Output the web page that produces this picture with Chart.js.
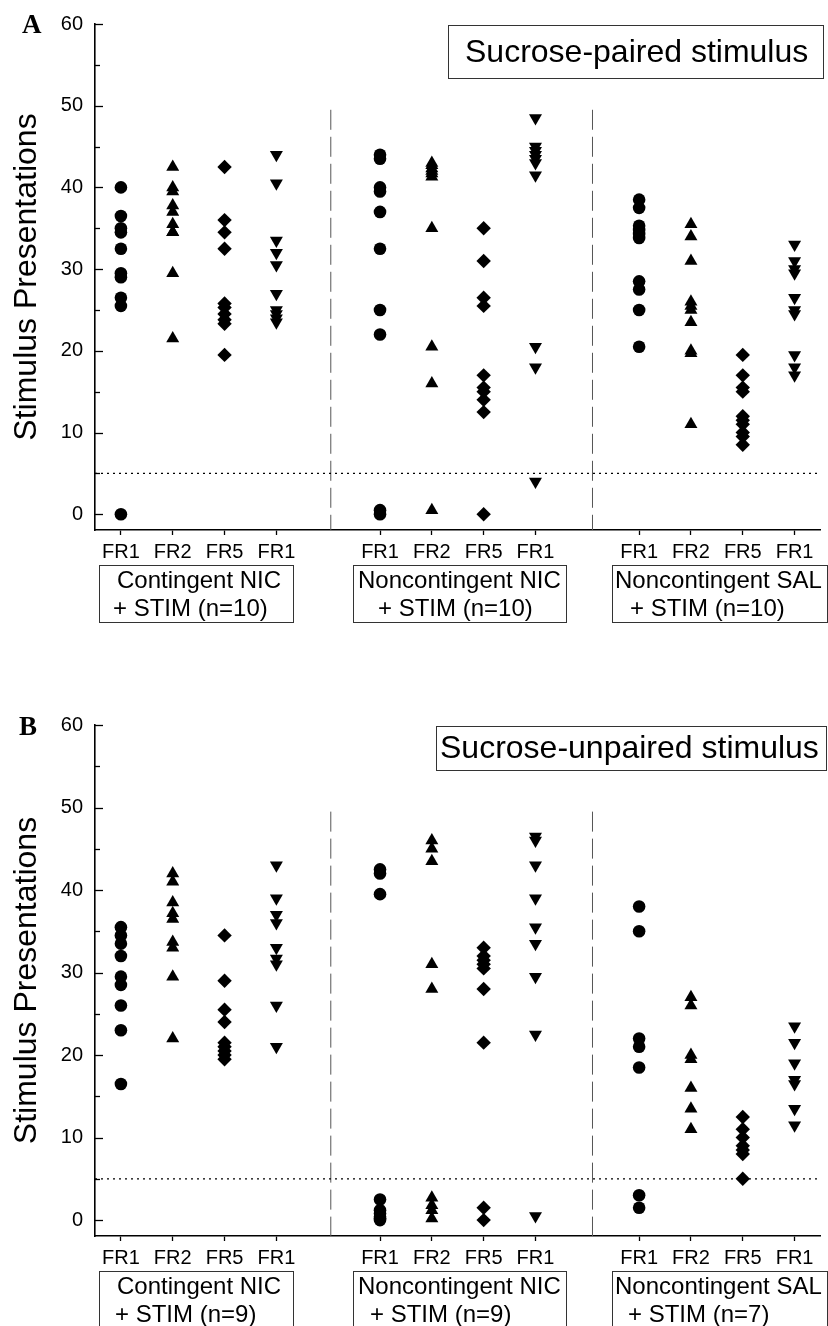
<!DOCTYPE html>
<html>
<head>
<meta charset="utf-8">
<script src="https://cdn.jsdelivr.net/npm/chart.js@4.4.1/dist/chart.umd.min.js"></script>
<style>
  html, body { margin: 0; padding: 0; background: #fff; }
  canvas { position: absolute; left: 0; }
  #panelA { top: 0; }
  #panelB { top: 640px; }
</style>
</head>
<body>
<canvas id="panelA" width="828" height="640"></canvas>
<canvas id="panelB" width="828" height="686"></canvas>
<script>
// x axis: four schedule columns per group, with a gap between groups
const xLabels = ["FR1","FR2","FR5","FR1","FR1","FR2","FR5","FR1","FR1","FR2","FR5","FR1"];
const xPositions = [0, 1, 2, 3, 5, 6, 7, 8, 10, 11, 12, 13];
const yTicks = [0, 10, 20, 30, 40, 50, 60];
const yMinorTicks = [5, 15, 25, 35, 45, 55];
const criterion = 5;            // dotted reference line
const separators = [4.05, 9.1]; // dashed group dividers
const separatorTop = 49.5;

// Sucrose-paired stimulus
const pairedContNicFR1  = [40, 36.5, 35, 34.5, 32.5, 29.5, 29, 26.5, 25.5, 0];
const pairedContNicFR2  = [42.5, 40, 39.5, 37.8, 37, 35.5, 34.5, 34.5, 29.5, 21.5];
const pairedContNicFR5  = [42.5, 36, 34.5, 32.5, 25.8, 25.3, 24.5, 23.8, 23.3, 19.5];
const pairedContNicFR1b = [44, 40.5, 33.5, 32, 30.5, 27, 25, 24.5, 24, 23.5];
const pairedNoncNicFR1  = [44, 43.5, 40, 39.5, 37, 32.5, 25, 22, 0.5, 0];
const pairedNoncNicFR2  = [43, 42.7, 42.3, 42, 41.7, 41.3, 35, 20.5, 16, 0.5];
const pairedNoncNicFR5  = [35, 31, 26.5, 25.5, 17, 15.5, 15, 14, 12.5, 0];
const pairedNoncNicFR1b = [48.5, 45, 44.5, 44, 43.5, 43, 41.5, 20.5, 18, 4];
const pairedNoncSalFR1  = [38.5, 37.5, 35.3, 34.8, 34.3, 33.8, 28.5, 27.5, 25, 20.5];
const pairedNoncSalFR2  = [35.5, 34, 31, 26, 25.5, 25, 23.5, 20, 19.7, 11];
const pairedNoncSalFR5  = [19.5, 17, 15.5, 15, 12, 11.5, 11, 10, 9.5, 8.5];
const pairedNoncSalFR1b = [33, 31, 30, 29.5, 26.5, 25, 24.5, 19.5, 18, 17];

// Sucrose-unpaired stimulus
const unpairedContNicFR1  = [35.5, 34.5, 33.5, 32, 29.5, 28.5, 26, 23, 16.5];
const unpairedContNicFR2  = [42, 41, 38.5, 37.2, 36.5, 33.7, 33, 29.5, 22];
const unpairedContNicFR5  = [34.5, 29, 25.5, 24, 21.5, 21, 20.5, 20, 19.5];
const unpairedContNicFR1b = [43, 39, 37, 36, 33, 31.7, 31, 26, 21];
const unpairedNoncNicFR1  = [42.5, 42, 39.5, 2.5, 1.2, 0.8, 0.4, 0.2, 0];
const unpairedNoncNicFR2  = [46, 45, 43.5, 31, 28, 2.7, 1.8, 1.2, 0.2];
const unpairedNoncNicFR5  = [33, 32, 31.5, 31, 30.5, 28, 21.5, 1.5, 0];
const unpairedNoncNicFR1b = [46.5, 46, 43, 39, 35.5, 33.5, 29.5, 22.5, 0.5];
const unpairedNoncSalFR1  = [38, 35, 22, 21, 18.5, 3, 1.5];
const unpairedNoncSalFR2  = [27, 26, 20, 19.5, 16, 13.5, 11];
const unpairedNoncSalFR5  = [12.5, 11, 10, 9, 8.5, 8, 5];
const unpairedNoncSalFR1b = [23.5, 21.5, 19, 17, 16.5, 13.5, 11.5];

const groupLabelsA = [["Contingent NIC", "+ STIM (n=10)"], ["Noncontingent NIC", "+ STIM (n=10)"], ["Noncontingent SAL", "+ STIM (n=10)"]];
const groupLabelsB = [["Contingent NIC", "+ STIM (n=9)"], ["Noncontingent NIC", "+ STIM (n=9)"], ["Noncontingent SAL", "+ STIM (n=7)"]];

// marker per schedule column: circle, up triangle, diamond, down triangle
const markerStyles = ["circle", "triangle", "rectRot", "triangle"];
const markerRotation = [0, 0, 0, 180];
const markerRadius = [6.3, 7.5, 7.2, 7.5];

const SANS = "'Liberation Sans', Arial, sans-serif";
const SERIF = "'Liberation Serif', 'Times New Roman', serif";
const Y_MIN = -1.93, Y_MAX = 60;

function columnDatasets(columns) {
  return columns.map((vals, i) => ({
    data: vals.map(v => ({ x: xPositions[i], y: v })),
    pointStyle: markerStyles[i % 4],
    rotation: markerRotation[i % 4],
    pointRadius: markerRadius[i % 4],
    backgroundColor: "#000",
    borderColor: "#000",
    borderWidth: 0,
    showLine: false
  }));
}

function lineDatasets() {
  const sets = [{
    data: [{ x: -0.5, y: criterion }, { x: 13.5, y: criterion }],
    showLine: true, pointRadius: 0, borderColor: "#000", borderWidth: 1.3, borderDash: [2, 4]
  }];
  separators.forEach(sx => sets.push({
    data: [{ x: sx, y: separatorTop }, { x: sx, y: Y_MIN }],
    showLine: true, pointRadius: 0, borderColor: "#555", borderWidth: 1, borderDash: [20, 7]
  }));
  return sets;
}

const boxLayout = [
  { left: 99, right: 293, line1: 117 },
  { left: 353, right: 566, line1: 358 },
  { left: 612, right: 827, line1: 615 }
];

// boxes, letter, minor ticks
const decorations = {
  id: "decorations",
  afterDraw(chart, args, opts) {
    const ctx = chart.ctx;
    const y = chart.scales.y;
    const axisX = chart.chartArea.left;
    const axisBottom = chart.chartArea.bottom;
    ctx.save();
    ctx.strokeStyle = "#000";
    ctx.lineWidth = 1.3;
    yTicks.concat(yMinorTicks).forEach(v => {
      const py = Math.round(y.getPixelForValue(v)) + 0.5;
      const len = yTicks.includes(v) ? 8 : 5;
      ctx.beginPath();
      ctx.moveTo(axisX, py);
      ctx.lineTo(axisX + len, py);
      ctx.stroke();
    });

    ctx.fillStyle = "#000";
    ctx.strokeStyle = "#333";
    ctx.lineWidth = 1;
    ctx.font = "24px " + SANS;
    ctx.textBaseline = "alphabetic";
    ctx.textAlign = "left";
    opts.groups.forEach((lines, i) => {
      const b = boxLayout[i];
      ctx.strokeRect(b.left + 0.5, axisBottom + 35.5, b.right - b.left, 57);
      ctx.fillText(lines[0], b.line1, axisBottom + 58);
      ctx.fillText(lines[1], opts.line2[i], axisBottom + 86);
    });

    const t = opts.title;
    ctx.strokeRect(t.left + 0.5, t.top + 0.5, t.right - t.left, t.bottom - t.top);
    ctx.font = "32px " + SANS;
    ctx.fillText(t.text, t.textX, t.baseline);

    ctx.font = "bold 27px " + SERIF;
    ctx.fillText(opts.letter.text, opts.letter.x, opts.letter.baseline);
    ctx.restore();
  }
};

function makePanel(id, columns, padTop, xAxisHeight, decor) {
  return new Chart(document.getElementById(id), {
    type: "scatter",
    data: { datasets: columnDatasets(columns).concat(lineDatasets()) },
    options: {
      responsive: false,
      animation: false,
      events: [],
      layout: { padding: { top: padTop, right: 1, left: 0, bottom: 0 } },
      plugins: { legend: { display: false }, tooltip: { enabled: false }, decorations: decor },
      scales: {
        x: {
          type: "linear", min: -0.5, max: 13.5,
          afterBuildTicks: s => { s.ticks = xPositions.map(v => ({ value: v })); },
          afterFit: s => { s.height = xAxisHeight; },
          ticks: {
            callback: (v, i) => xLabels[i],
            autoSkip: false, maxRotation: 0, padding: 5,
            color: "#000", font: { family: SANS, size: 20 }
          },
          grid: { drawOnChartArea: false, tickLength: 5, tickColor: "#000", tickWidth: 1.3 },
          border: { color: "#000", width: 1.6 }
        },
        y: {
          min: Y_MIN, max: Y_MAX,
          afterBuildTicks: s => { s.ticks = yTicks.map(v => ({ value: v })); },
          afterFit: s => { s.width = 95; },
          ticks: { padding: 12, color: "#000", font: { family: SANS, size: 20 } },
          grid: { drawOnChartArea: false, drawTicks: false },
          border: { color: "#000", width: 1.6 },
          title: {
            display: true, text: "Stimulus Presentations", color: "#000",
            font: { family: SANS, size: 32 }, padding: { top: 8, bottom: 0 }
          }
        }
      }
    },
    plugins: [decorations]
  });
}

makePanel("panelA",
  [pairedContNicFR1, pairedContNicFR2, pairedContNicFR5, pairedContNicFR1b,
   pairedNoncNicFR1, pairedNoncNicFR2, pairedNoncNicFR5, pairedNoncNicFR1b,
   pairedNoncSalFR1, pairedNoncSalFR2, pairedNoncSalFR5, pairedNoncSalFR1b],
  17, 110,
  {
    groups: groupLabelsA,
    line2: [113, 378, 630],
    title: { text: "Sucrose-paired stimulus", left: 448, top: 25, right: 823, bottom: 78, textX: 465, baseline: 62 },
    letter: { text: "A", x: 22, baseline: 33 }
  });

makePanel("panelB",
  [unpairedContNicFR1, unpairedContNicFR2, unpairedContNicFR5, unpairedContNicFR1b,
   unpairedNoncNicFR1, unpairedNoncNicFR2, unpairedNoncNicFR5, unpairedNoncNicFR1b,
   unpairedNoncSalFR1, unpairedNoncSalFR2, unpairedNoncSalFR5, unpairedNoncSalFR1b],
  85, 90,
  {
    groups: groupLabelsB,
    line2: [115, 370, 628],
    title: { text: "Sucrose-unpaired stimulus", left: 436, top: 86, right: 826, bottom: 130, textX: 440, baseline: 118 },
    letter: { text: "B", x: 19, baseline: 95 }
  });
</script>
</body>
</html>
